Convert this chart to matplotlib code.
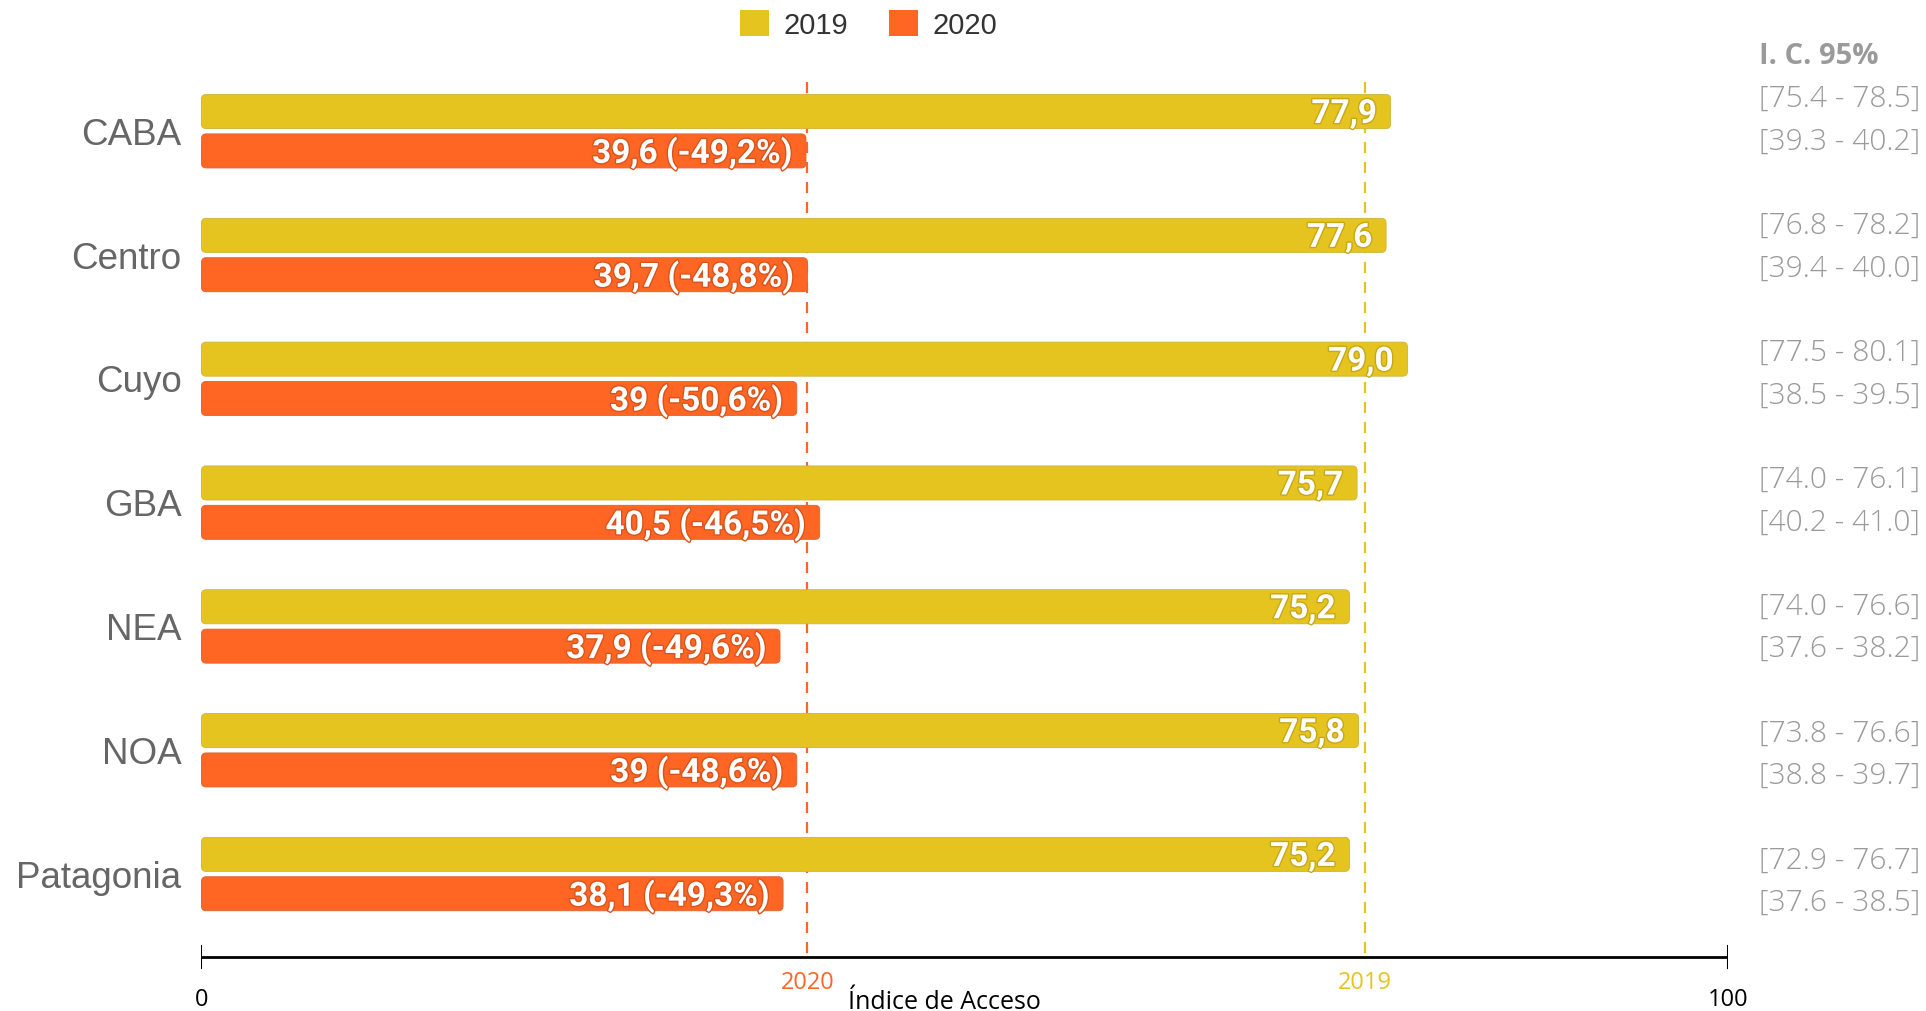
import matplotlib
matplotlib.use("Agg")
import matplotlib.pyplot as plt
import matplotlib.patheffects as pe
from matplotlib.patches import Patch, FancyBboxPatch

# data
regions = ["CABA", "Centro", "Cuyo", "GBA", "NEA", "NOA", "Patagonia"]
val_2019 = [77.9, 77.6, 79.0, 75.7, 75.2, 75.8, 75.2]
val_2020 = [39.6, 39.7, 39.0, 40.5, 37.9, 39.0, 38.1]
change_pct = [-49.2, -48.8, -50.6, -46.5, -49.6, -48.6, -49.3]
ci_2019 = [(75.4, 78.5), (76.8, 78.2), (77.5, 80.1), (74.0, 76.1),
           (74.0, 76.6), (73.8, 76.6), (72.9, 76.7)]
ci_2020 = [(39.3, 40.2), (39.4, 40.0), (38.5, 39.5), (40.2, 41.0),
           (37.6, 38.2), (38.8, 39.7), (37.6, 38.5)]
national = {"2020": 39.7, "2019": 76.2}

yellow = "#E6C41F"
orange = "#FF6624"
grey_txt = "#9a9a9a"


def coma(x, fmt):
    return format(x, fmt).replace(".", ",")


def round_bars(ax, bars, edge):
    # swap the plain rectangles of barh for rounded ones with the same bounds
    asp = (ax.get_ylim()[0] - ax.get_ylim()[1]) / 100 * 1526.5 / 1012
    for r in bars:
        x, y = r.get_x(), r.get_y()
        w, hh = r.get_width(), r.get_height()
        fb = FancyBboxPatch((x, y), w, hh,
                            boxstyle="round,pad=0,rounding_size=0.3",
                            mutation_aspect=asp, facecolor=r.get_facecolor(),
                            edgecolor=edge, linewidth=0.6, zorder=2)
        r.set_visible(False)
        ax.add_patch(fb)


fig = plt.figure(figsize=(19.26, 10.12), dpi=100)
ax = fig.add_axes([0.1046, 0.0, 0.7926, 1.0])
ax.set_xlim(0, 100)
ax.set_ylim(7.116, -1.058)
ax.axis("off")

pos = [p + 0.01 for p in range(len(regions))]
off = 0.159
h = 0.275
y19 = [p - off for p in pos]
y20 = [p + off for p in pos]

# reference lines (national values)
ax.plot([national["2020"]] * 2, [-0.384, 6.68], color=orange, lw=1.6,
        dashes=(5, 4), zorder=1)
ax.plot([national["2019"]] * 2, [-0.384, 6.68], color=yellow, lw=1.6,
        dashes=(5, 4), zorder=1)

b19 = ax.barh(y19, val_2019, height=h, color=yellow, zorder=2)
b20 = ax.barh(y20, val_2020, height=h, color=orange, zorder=2)
round_bars(ax, b19, "#cdb33a")
round_bars(ax, b20, "#d9652f")

# bar labels
for y, v in zip(y19, val_2019):
    ax.text(v - 0.9, y + 0.02, coma(v, ".1f"), ha="right", va="center",
            color="white", fontsize=24, fontweight="bold", family="Roboto",
            path_effects=[pe.withStroke(linewidth=2, foreground="#c8a716")],
            zorder=4)
for y, v, c in zip(y20, val_2020, change_pct):
    lab = coma(v, "g") + " (" + coma(c, ".1f") + "%)"
    ax.text(v - 0.9, y + 0.02, lab, ha="right", va="center",
            color="white", fontsize=24, fontweight="bold", family="Roboto",
            path_effects=[pe.withStroke(linewidth=2, foreground="#d9531a")],
            zorder=4)

# category labels
for p, r in zip(pos, regions):
    ax.text(-1.3, p + 0.025, r, ha="right", va="center", fontsize=26.5,
            color="#666666", family="Liberation Sans")

# confidence intervals column
ax.text(102.0, (57 - 131) / 123.8, "I. C. 95%", ha="left", va="center",
        fontsize=21, fontweight="bold", color=grey_txt, family="Open Sans")
for i, (a, b) in enumerate(zip(ci_2019, ci_2020)):
    y1 = -0.255 + i * 1.025
    y2 = y1 + 0.343
    ax.text(102.0, y1, "[%.1f - %.1f]" % a, ha="left", va="center",
            fontsize=21.6, fontweight="light", color=grey_txt, family="Open Sans")
    ax.text(102.0, y2, "[%.1f - %.1f]" % b, ha="left", va="center",
            fontsize=21.6, fontweight="light", color=grey_txt, family="Open Sans")

# x axis
ax.plot([0, 100], [6.68, 6.68], color="black", lw=2, zorder=3)
for t in (0, 100):
    ax.plot([t, t], [6.59, 6.77], color="black", lw=1.5, zorder=3)
    ax.text(t, 7.02, str(t), ha="center", va="center", fontsize=17,
            color="black", family="Open Sans")
ax.text(national["2020"], 6.88, "2020", ha="center", va="center",
        fontsize=17, color=orange, family="Open Sans")
ax.text(national["2019"], 6.88, "2019", ha="center", va="center",
        fontsize=17, color=yellow, family="Open Sans")
ax.text(48.7, 7.04, "Índice de Acceso", ha="center", va="center",
        fontsize=18, color="black", family="Open Sans")

# legend
handles = [Patch(facecolor=yellow, edgecolor="none", label="2019"),
           Patch(facecolor=orange, edgecolor="none", label="2020")]
fig.legend(handles=handles, loc="center", bbox_to_anchor=(0.451, 0.975),
           ncol=2, frameon=False, handlelength=1.0, handleheight=1.0,
           handletextpad=0.5, columnspacing=1.4,
           prop={"family": "Liberation Sans", "size": 21}, labelcolor="#333333")

fig.savefig("out.png", dpi=100, facecolor="white")
